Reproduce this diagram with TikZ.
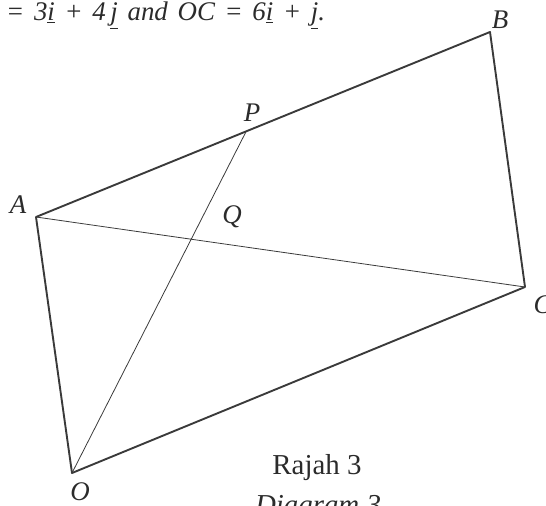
\documentclass[tikz,border=0pt]{standalone}
\usepackage{fontspec}
\setmainfont{Liberation Serif}
\usetikzlibrary{positioning, calc}
\definecolor{FigInk}{HTML}{2B2B2B}
\definecolor{FigLine}{HTML}{3A3A3A}

\begin{document}
\begin{tikzpicture}[x=1bp, y=-1bp, font=\fontsize{27}{32}\selectfont\itshape, text=FigInk]
\useasboundingbox (0,0) rectangle (546,506);
\tikzset{side/.style={draw=FigLine, line width=1.9pt, line join=round},
  diag/.style={draw=FigLine, line width=0.8pt}}

\coordinate (O) at (72,473);
\coordinate (A) at (36,217);
\coordinate (B) at (490,32);
\coordinate (C) at (525,287);
\coordinate (P) at ($(A)!0.463!(B)$);

\draw[side] (A) -- (B) -- (C) -- (O) -- cycle;
\draw[diag] (A) -- (C);
\draw[diag] (O) -- (P);

\node (labA) at (18,205) {A};
\node (labB) at (500,20) {B};
\node[anchor=west] (labC) at (530,305) {C};
\node (labP) at (252,113) {P};
\node (labQ) at (232,217) {Q};
\node (labO) at (80,492) {O};

\node[anchor=base west, inner sep=0pt, font=\fontsize{27}{32}\selectfont\itshape] (given)
  at (6,21) {\spaceskip=0.36em = 3\underline{i} + 4\,\underline{j} and OC = 6\underline{i} + \underline{j}.};

\node[anchor=base, font=\fontsize{29}{34}\selectfont\upshape] (rajah) at (317,474) {Rajah 3};
\node[anchor=base, font=\fontsize{29}{34}\selectfont\itshape] (diagram) at (318,514) {Diagram 3};
\end{tikzpicture}
\end{document}
